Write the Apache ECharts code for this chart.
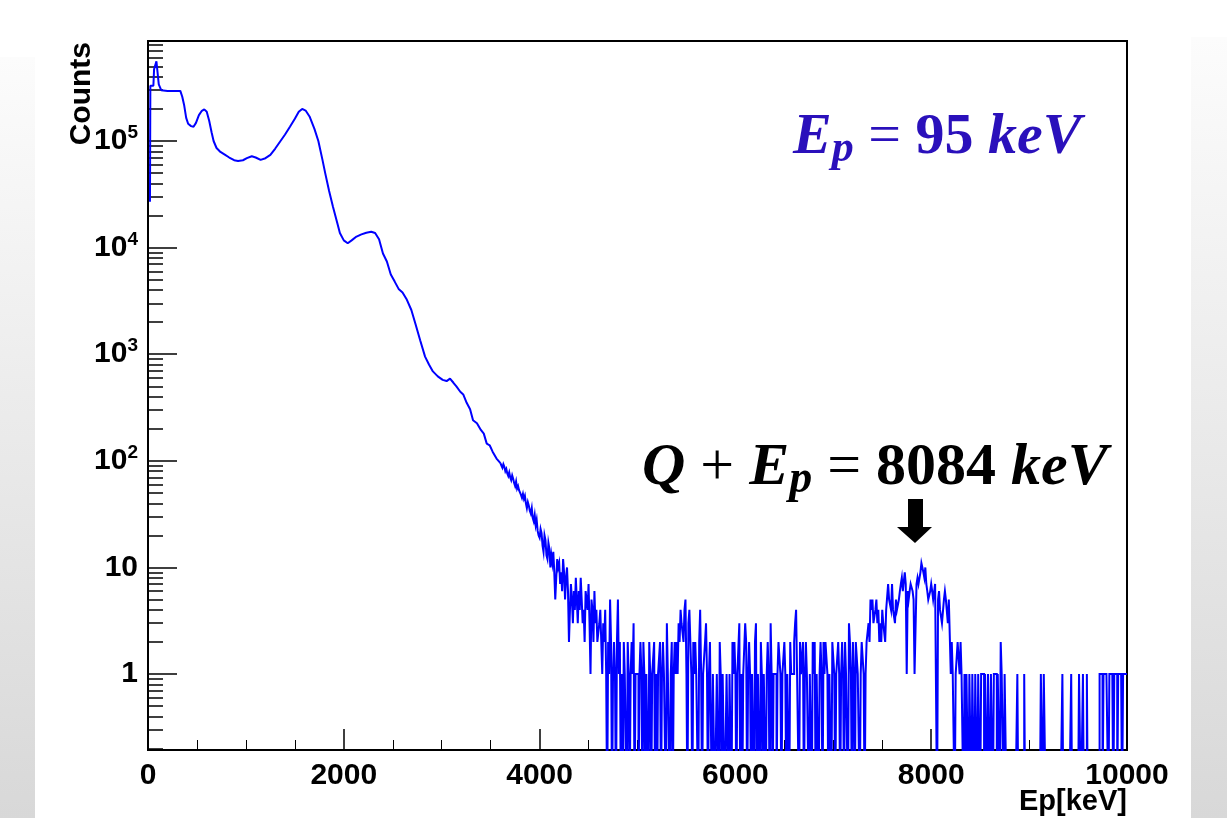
<!DOCTYPE html>
<html>
<head>
<meta charset="utf-8">
<script src="https://cdn.jsdelivr.net/npm/echarts@6/dist/echarts.min.js"></script>
<style>
  html, body { margin: 0; padding: 0; background: #fff; }
  #main { width: 1227px; height: 818px; }
</style>
</head>
<body>
<div id="main"></div>
<script>
// low energy part (keV / counts)
const lowEnergy = [
  20, 24, 55, 62, 80, 86, 100, 110, 135, 200,
  260, 330, 350, 370, 390, 410, 440, 465, 490, 520,
  550, 575, 600, 625, 650, 670, 700, 740, 780, 830,
  880, 920, 970, 1010, 1060, 1100, 1150, 1200, 1250, 1300,
  1350, 1400, 1450, 1500, 1540, 1575, 1610, 1650, 1700, 1740,
  1780, 1810, 1850, 1890, 1930, 1960, 2000, 2040, 2080, 2130,
  2180, 2230, 2280, 2320, 2360, 2400, 2440, 2480, 2520, 2560,
  2600, 2640, 2690, 2730, 2780, 2830, 2870, 2910, 2960, 3010,
  3050, 3085, 3120, 3150, 3190, 3220, 3255, 3290, 3320, 3360,
  3400, 3430, 3460, 3490, 3520, 3560, 3600
];
const lowCounts = [
  27000, 330000, 330000, 470000, 470000, 560000, 560000, 340000, 300000, 295000,
  295000, 295000, 260000, 215000, 165000, 145000, 138000, 136000, 148000, 175000,
  192000, 198000, 188000, 155000, 120000, 100000, 86000, 79000, 75000, 70000,
  66000, 65000, 66000, 69000, 72000, 70000, 66500, 69000, 74000, 85000,
  99000, 115000, 136000, 162000, 188000, 200000, 193000, 170000, 130000, 100000,
  68000, 50000, 34000, 24000, 17500, 13700, 11700, 11000, 11700, 12700,
  13300, 13800, 14100, 13700, 12000, 8800, 7400, 5600, 4800, 4100,
  3800, 3300, 2600, 1950, 1350, 950, 800, 690, 620, 575,
  560, 590, 540, 500, 445, 420, 350, 305, 240, 225,
  195, 180, 145, 140, 122, 105, 95
];

// tail: 10 keV bins starting at 3600 keV (one row = 200 keV)
const tailStart = 3600;
const binWidth = 10;
const tailCounts = [
  95, 90, 86, 93, 88, 80, 84, 76, 72, 78, 70, 66, 73, 68, 62, 58, 64, 55, 58, 53,  // 3600
  52, 48, 45, 49, 44, 47, 40, 36, 41, 38, 34, 32, 36, 29, 27, 31, 25, 28, 22, 20,  // 3800
  19, 23, 21, 16, 14, 20, 18, 13, 12, 17, 15, 10, 13, 11, 14, 9, 5, 8, 12, 10,     // 4000
  11, 7, 9, 6, 12, 9, 5, 8, 10, 6, 2, 4, 7, 5, 3, 6, 4, 8, 5, 3,                   // 4200
  6, 4, 8, 5, 3, 4, 2, 6, 5, 4, 7, 3, 1, 5, 4, 2, 6, 3, 4, 2,                      // 4400
  2, 3, 4, 2, 1, 3, 2, 4, 1, 0, 2, 1, 5, 2, 0, 1, 2, 1, 0, 2,                      // 4600
  5, 1, 2, 0, 1, 0, 2, 1, 1, 0, 2, 1, 0, 1, 2, 1, 3, 0, 1, 1,                      // 4800
  1, 0, 1, 2, 1, 0, 2, 1, 0, 1, 1, 0, 2, 1, 0, 1, 1, 2, 0, 1,                      // 5000
  0, 1, 1, 2, 0, 1, 2, 1, 1, 0, 3, 1, 1, 0, 1, 2, 0, 1, 2, 1,                      // 5200
  2, 1, 3, 2, 4, 3, 3, 2, 4, 5, 1, 0, 3, 4, 2, 1, 0, 2, 1, 2,                      // 5400
  1, 1, 0, 2, 4, 1, 0, 1, 1, 2, 3, 1, 0, 1, 2, 2, 0, 1, 1, 0,                      // 5600
  0, 1, 1, 0, 2, 1, 0, 1, 1, 0, 0, 1, 1, 0, 1, 1, 0, 2, 1, 2,                      // 5800
  1, 0, 1, 1, 3, 0, 1, 0, 1, 1, 3, 2, 0, 1, 2, 1, 0, 1, 1, 0,                      // 6000
  2, 3, 0, 1, 1, 0, 2, 1, 0, 1, 1, 0, 1, 2, 1, 0, 3, 1, 0, 1,                      // 6200
  1, 1, 0, 1, 2, 2, 1, 0, 1, 1, 2, 1, 0, 1, 1, 0, 2, 1, 1, 1,                      // 6400
  2, 3, 4, 1, 1, 0, 2, 1, 1, 2, 0, 1, 2, 1, 1, 0, 1, 1, 0, 2,                      // 6600
  1, 2, 0, 1, 1, 0, 1, 2, 1, 0, 2, 1, 2, 2, 1, 0, 1, 1, 0, 2,                      // 6800
  2, 1, 0, 1, 1, 2, 1, 0, 1, 2, 1, 0, 2, 1, 1, 0, 3, 2, 1, 0,                      // 7000
  2, 1, 0, 2, 2, 1, 1, 0, 1, 2, 2, 1, 0, 1, 2, 2, 3, 2, 5, 4,                      // 7200
  5, 3, 3, 4, 5, 3, 4, 2, 3, 2, 4, 3, 3, 2, 4, 4, 7, 5, 5, 4,                      // 7400
  7, 4, 4, 3, 5, 4, 4, 5, 6, 7, 8, 6, 6, 9, 7, 1, 6, 5, 6, 7,                      // 7600
  7, 6, 5, 1, 1, 7, 8, 7, 7, 9, 11, 10, 9, 8, 10, 7, 6, 5, 5, 6,                   // 7800
  7, 6, 5, 5, 7, 7, 0, 5, 6, 4, 4, 3, 3, 5, 6, 5, 5, 3, 5, 5,                      // 8000
  1, 2, 1, 1, 0, 1, 1, 2, 2, 1, 2, 1, 1, 0, 1, 0, 1, 1, 0, 1,                      // 8200
  1, 0, 1, 1, 0, 1, 1, 0, 1, 1, 0, 1, 1, 1, 0, 1, 1, 0, 1, 1,                      // 8400
  0, 1, 1, 0, 1, 1, 1, 0, 1, 1, 0, 2, 1, 1, 0, 1, 1, 0, 0, 0,                      // 8600
  0, 0, 0, 0, 0, 0, 0, 0, 1, 0, 0, 0, 0, 0, 0, 1, 0, 0, 0, 0,                      // 8800
  0, 0, 0, 0, 0, 0, 0, 0, 0, 0, 0, 0, 1, 1, 0, 1, 1, 0, 0, 0,                      // 9000
  0, 0, 0, 0, 0, 0, 0, 0, 0, 0, 0, 0, 0, 0, 1, 0, 0, 0, 0, 0,                      // 9200
  0, 0, 0, 1, 0, 0, 0, 0, 0, 0, 0, 1, 1, 0, 0, 1, 0, 0, 0, 1,                      // 9400
  0, 0, 0, 0, 0, 0, 0, 0, 0, 0, 0, 0, 1, 1, 1, 0, 1, 1, 1, 1,                      // 9600
  1, 0, 1, 1, 1, 1, 0, 1, 1, 1, 0, 1, 1, 1, 1, 0, 1, 1, 1, 1                       // 9800
];

const xRange = [0, 10000];
const xStep = 2000;
const yRange = [0.194, 867000];
const yLabelled = [1, 10, 100, 1000, 10000, 100000];

const BLUE = '#0000ff';
const NOTE_BLUE = '#2a10bb';
const EMPTY = 0.05; // empty bins sit below the axis floor and get clipped

const lowData = lowEnergy.map((e, i) => [e, lowCounts[i]]);
const tailData = tailCounts.map((c, i) => [tailStart + i * binWidth, c > 0 ? c : EMPTY]);
tailData.push([tailStart + tailCounts.length * binWidth, tailData[tailData.length - 1][1]]);

const chart = echarts.init(document.getElementById('main'), null, { renderer: 'canvas' });

const labelFont = 'Liberation Sans';
const serif = 'Liberation Serif';

function yLabel(v) {
  const hit = yLabelled.find(t => Math.abs(t - v) < t * 1e-6);
  if (hit === undefined) return '';
  const e = Math.round(Math.log10(hit));
  if (e < 2) return String(hit);
  return '{b|10}{s|' + e + '}';
}

function mathText(parts, color, size, subSize) {
  return {
    text: parts,
    fill: color,
    rich: {
      i: { fontFamily: serif, fontStyle: 'italic', fontWeight: 'bold', fontSize: size, fill: color },
      s: { fontFamily: serif, fontStyle: 'italic', fontWeight: 'bold', fontSize: subSize, fill: color, padding: [24, 0, 0, 0] },
      n: { fontFamily: serif, fontWeight: 'bold', fontSize: size, fill: color },
      o: { fontFamily: serif, fontSize: size, fill: color }
    }
  };
}

const option = {
  backgroundColor: '#ffffff',
  animation: false,
  grid: {
    left: 148, right: 100, top: 41, bottom: 68,
    show: true, borderColor: '#000', borderWidth: 2, backgroundColor: 'transparent'
  },
  xAxis: {
    type: 'value',
    min: xRange[0], max: xRange[1], interval: xStep,
    axisLine: { show: true, onZero: false, lineStyle: { color: '#000', width: 2 } },
    axisTick: { show: true, inside: true, length: 21, lineStyle: { color: '#000', width: 1.5 } },
    minorTick: { show: true, splitNumber: 4, length: 10, lineStyle: { color: '#000', width: 1 } },
    splitLine: { show: false },
    axisLabel: {
      margin: 11, color: '#000', fontFamily: labelFont, fontWeight: 'bold', fontSize: 30,
      formatter: v => String(v)
    }
  },
  yAxis: {
    type: 'log', logBase: 10,
    min: yRange[0], max: yRange[1],
    axisLine: { show: true, lineStyle: { color: '#000', width: 2 } },
    axisTick: { show: true, inside: true, length: 29, lineStyle: { color: '#000', width: 1.5 } },
    minorTick: { show: true, splitNumber: 9, length: 15, lineStyle: { color: '#000', width: 1.5 } },
    splitLine: { show: false },
    minorSplitLine: { show: false },
    axisLabel: {
      margin: 10, color: '#000', fontFamily: labelFont, fontWeight: 'bold', fontSize: 30,
      formatter: yLabel,
      rich: {
        b: { color: '#000', fontFamily: labelFont, fontWeight: 'bold', fontSize: 30 },
        s: { color: '#000', fontFamily: labelFont, fontWeight: 'bold', fontSize: 19, padding: [0, 0, 16, 0] }
      }
    }
  },
  series: [
    {
      type: 'line', data: lowData, symbol: 'none', silent: true, clip: true,
      lineStyle: { color: BLUE, width: 2 }
    },
    {
      type: 'line', data: tailData, step: 'end', symbol: 'none', silent: true, clip: true,
      lineStyle: { color: BLUE, width: 2, join: 'miter' }
    }
  ],
  graphic: [
    {
      type: 'rect', z: -10, shape: { x: 0, y: 57, width: 35, height: 761 },
      style: { fill: new echarts.graphic.LinearGradient(0, 0, 0, 1, [
        { offset: 0, color: '#fcfcfc' }, { offset: 1, color: '#d8d8d8' }]) }
    },
    {
      type: 'rect', z: -10, shape: { x: 1191, y: 37, width: 36, height: 781 },
      style: { fill: new echarts.graphic.LinearGradient(0, 0, 0, 1, [
        { offset: 0, color: '#fcfcfc' }, { offset: 1, color: '#d8d8d8' }]) }
    },
    {
      type: 'text', x: 82, y: 42, rotation: Math.PI / 2,
      style: { text: 'Counts', align: 'right', verticalAlign: 'middle',
        fontFamily: labelFont, fontWeight: 'bold', fontSize: 30, fill: '#000' }
    },
    {
      type: 'text', x: 1127, y: 787,
      style: { text: 'Ep[keV]', align: 'right', verticalAlign: 'top',
        fontFamily: labelFont, fontWeight: 'bold', fontSize: 29, fill: '#000' }
    },
    {
      type: 'text', x: 793, y: 138,
      style: Object.assign(mathText('{i|E}{s|p}{o| = }{n|95}{o| }{i|keV}', NOTE_BLUE, 58, 44),
        { align: 'left', verticalAlign: 'middle' })
    },
    {
      type: 'text', x: 642, y: 468,
      style: Object.assign(mathText('{i|Q}{o| + }{i|E}{s|p}{o| = }{n|8084}{o| }{i|keV}', '#000', 60, 46),
        { align: 'left', verticalAlign: 'middle' })
    },
    {
      type: 'polygon',
      shape: { points: [[908, 499], [923, 499], [923, 527], [932, 527], [915, 543], [897, 527], [908, 527]] },
      style: { fill: '#000' }
    }
  ]
};

chart.setOption(option);
</script>
</body>
</html>
